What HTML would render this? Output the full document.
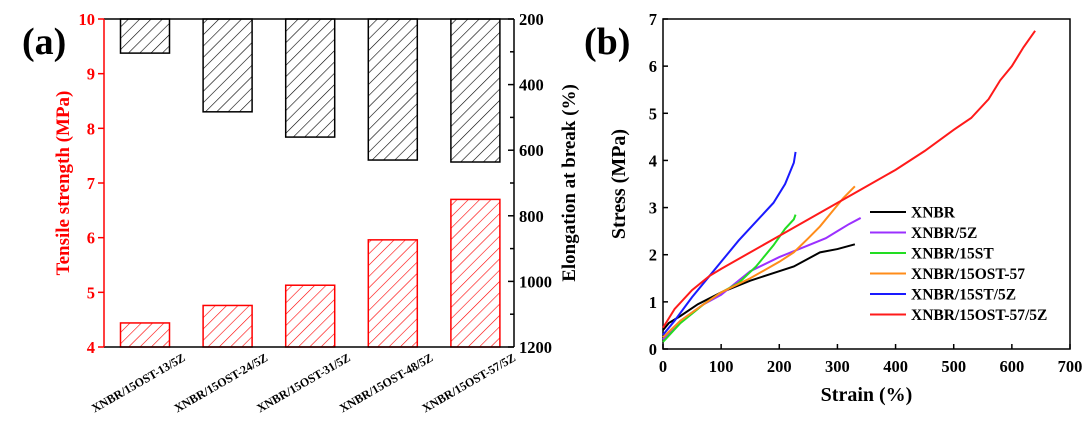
<!DOCTYPE html>
<html><head><meta charset="utf-8"><style>
body{margin:0;background:#fff;width:1086px;height:424px;overflow:hidden}
svg text{font-family:"Liberation Serif",serif;font-weight:bold}
</style></head><body>
<svg id="s" width="1086" height="424" xmlns="http://www.w3.org/2000/svg">
<defs>
<pattern id="hk" patternUnits="userSpaceOnUse" width="8" height="8" patternTransform="rotate(45)"><line x1="0" y1="0" x2="0" y2="8" stroke="#000" stroke-width="1.2"/></pattern>
<pattern id="hr" patternUnits="userSpaceOnUse" width="8" height="8" patternTransform="rotate(45)"><line x1="0" y1="0" x2="0" y2="8" stroke="#f00" stroke-width="1.2"/></pattern>
</defs>
<g id="ga"></g><g id="gb"></g>
</svg>
<script>
const categories=["XNBR/15OST-13/5Z","XNBR/15OST-24/5Z","XNBR/15OST-31/5Z","XNBR/15OST-48/5Z","XNBR/15OST-57/5Z"];
const tensile=[4.44,4.76,5.13,5.96,6.70];
const elongation=[304,483,560,630,636];
const leftTicks=[4,5,6,7,8,9,10];
const rightTicks=[200,400,600,800,1000,1200];
const seriesNames=["XNBR","XNBR/5Z","XNBR/15ST","XNBR/15OST-57","XNBR/15ST/5Z","XNBR/15OST-57/5Z"];
const seriesColors=["#000","#9b30ff","#22dd22","#ff8c1a","#1a1aff","#ff1a1a"];
const s0x=[0,10,30,60,100,150,200,225,270,300,330], s0y=[0.4,0.55,0.7,0.95,1.2,1.45,1.65,1.75,2.05,2.12,2.22];
const s1x=[0,30,70,100,150,200,250,280,300,320,340], s1y=[0.2,0.6,0.95,1.15,1.65,1.95,2.2,2.35,2.5,2.65,2.78];
const s2x=[0,30,70,100,130,160,190,210,225,228], s2y=[0.15,0.55,0.95,1.2,1.4,1.75,2.2,2.55,2.75,2.85];
const s3x=[0,30,70,100,150,200,225,250,270,290,310,330], s3y=[0.25,0.6,0.95,1.2,1.5,1.85,2.05,2.35,2.6,2.9,3.2,3.45];
const s4x=[0,20,50,80,100,130,160,190,210,225,228], s4y=[0.3,0.6,1.1,1.55,1.85,2.3,2.7,3.1,3.5,3.95,4.18];
const s5x=[0,10,20,50,80,100,150,200,250,300,350,400,450,500,530,560,580,600,620,640], s5y=[0.45,0.65,0.85,1.25,1.55,1.7,2.05,2.4,2.75,3.1,3.45,3.8,4.2,4.65,4.9,5.3,5.7,6.0,6.4,6.75];
const xTicksB=[0,100,200,300,400,500,600,700];
const yTicksB=[0,1,2,3,4,5,6,7];

const NS="http://www.w3.org/2000/svg";
function mk(p,t,a,txt){const e=document.createElementNS(NS,t);for(const k in a)e.setAttribute(k,a[k]);if(txt!==undefined)e.textContent=txt;p.appendChild(e);return e;}
// Panel a
const ga=document.getElementById('ga');
const L=104,R=514,T=19,B=347;
const yL=v=>B-(v-4)/6*(B-T);
const yR=v=>T+(v-200)/1000*(B-T);
const xC=i=>145+i*82.6;
const bw=49;
categories.forEach((c,i)=>{
  let r=mk(ga,'rect',{x:xC(i)-bw/2,y:T,width:bw,height:yR(elongation[i])-T,fill:'url(#hk)',stroke:'#000','stroke-width':1.5});
  
  
  let r2=mk(ga,'rect',{x:xC(i)-bw/2,y:yL(tensile[i]),width:bw,height:B-yL(tensile[i]),fill:'url(#hr)',stroke:'#f00','stroke-width':1.5});
  
  
  let t=mk(ga,'text',{x:0,y:0,'font-size':12,'text-anchor':'end',transform:`translate(${xC(i)+41},${B+13}) rotate(-30)`},c);
  
  
});
mk(ga,'line',{x1:L,y1:T,x2:R,y2:T,stroke:'#000','stroke-width':1.5});
mk(ga,'line',{x1:L,y1:B,x2:R,y2:B,stroke:'#000','stroke-width':1.5});
mk(ga,'line',{x1:R,y1:T,x2:R,y2:B,stroke:'#000','stroke-width':1.5});
mk(ga,'line',{x1:L,y1:T,x2:L,y2:B,stroke:'#f00','stroke-width':1.5});
leftTicks.forEach(v=>{mk(ga,'line',{x1:L,y1:yL(v),x2:L-6,y2:yL(v),stroke:'#f00','stroke-width':1.5});
  let t=mk(ga,'text',{x:L-9,y:yL(v)+6,'font-size':16.5,fill:'#f00','text-anchor':'end'},v);
  });
for(let v=200;v<=1200;v+=100){mk(ga,'line',{x1:R,y1:yR(v),x2:R-(v%200==0?6:4),y2:yR(v),stroke:'#000','stroke-width':1.5});}
rightTicks.forEach(v=>{let t=mk(ga,'text',{x:R+5,y:yR(v)+6,'font-size':16.5,fill:'#000'},v);
  });
let ya=mk(ga,'text',{x:0,y:0,'font-size':19,fill:'#f00','text-anchor':'middle',transform:`translate(69,${(T+B)/2}) rotate(-90)`},'Tensile strength (MPa)');

let yb=mk(ga,'text',{x:0,y:0,'font-size':19,fill:'#000','text-anchor':'middle',transform:`translate(575,${(T+B)/2}) rotate(-90)`},'Elongation at break (%)');

let pa=mk(ga,'text',{x:22,y:54,'font-size':38},'(a)');
// Panel b
const gb=document.getElementById('gb');
const L2=663,R2=1070,T2=19,B2=349;
const xB=v=>L2+v/700*(R2-L2), yB=v=>B2-v/7*(B2-T2);
mk(gb,'rect',{x:L2,y:T2,width:R2-L2,height:B2-T2,fill:'none',stroke:'#000','stroke-width':1.5});
xTicksB.forEach(v=>{mk(gb,'line',{x1:xB(v),y1:B2,x2:xB(v),y2:B2-5,stroke:'#000','stroke-width':1.5});
 let t=mk(gb,'text',{x:xB(v),y:B2+23,'font-size':16.5,'text-anchor':'middle'},v);});
yTicksB.forEach(v=>{mk(gb,'line',{x1:L2,y1:yB(v),x2:L2+5,y2:yB(v),stroke:'#000','stroke-width':1.5});
 let t=mk(gb,'text',{x:L2-6,y:yB(v)+6,'font-size':16.5,'text-anchor':'end'},v);});
const SX=[s0x,s1x,s2x,s3x,s4x,s5x],SY=[s0y,s1y,s2y,s3y,s4y,s5y];
SX.forEach((xs,k)=>{
 let p=mk(gb,'polyline',{points:xs.map((x,i)=>xB(x)+','+yB(SY[k][i])).join(' '),fill:'none',stroke:seriesColors[k],'stroke-width':2});
 
 let ly=212+k*20.5;
 let l=mk(gb,'line',{x1:870,y1:ly,x2:906,y2:ly,stroke:seriesColors[k],'stroke-width':2});
 
 let t=mk(gb,'text',{x:911,y:ly+5.5,'font-size':15.5},seriesNames[k]);
 
});
let xt=mk(gb,'text',{x:(L2+R2)/2,y:401,'font-size':20,'text-anchor':'middle'},'Strain (%)');
let yt=mk(gb,'text',{x:0,y:0,'font-size':20,'text-anchor':'middle',transform:`translate(625,${(T2+B2)/2}) rotate(-90)`},'Stress (MPa)');
let pb=mk(gb,'text',{x:584,y:54,'font-size':38},'(b)');
</script>
</body></html>
